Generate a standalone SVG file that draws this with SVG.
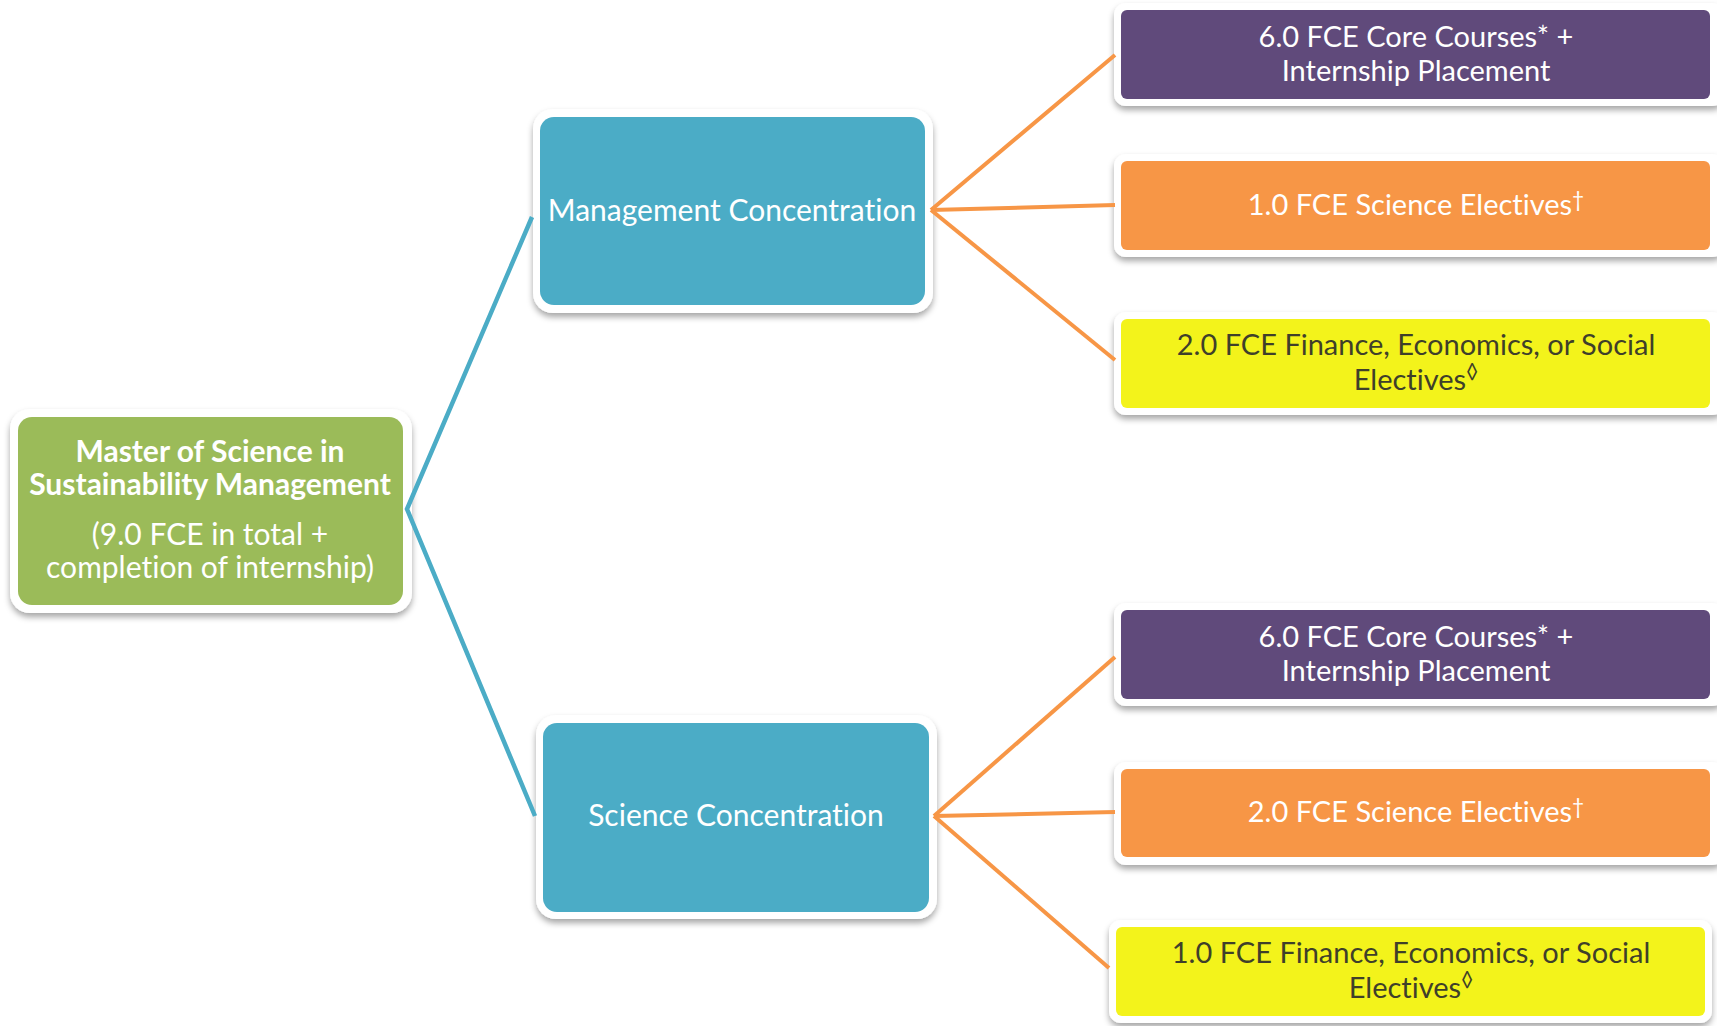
<svg xmlns="http://www.w3.org/2000/svg" width="1717" height="1026" viewBox="0 0 1717 1026">
<defs>
<filter id="sh" x="-10%" y="-10%" width="120%" height="130%">
<feDropShadow dx="0" dy="4" stdDeviation="3" flood-color="#000" flood-opacity="0.35"/>
</filter>
<style>
.frame{fill:#ffffff;filter:url(#sh);}
.t{font-family:Lato,"Open Sans","Liberation Sans",sans-serif;font-size:30px;text-anchor:middle;fill:#ffffff;font-variant-ligatures:none;}
.r{font-size:29px;}
.dk{fill:#3f3f2a;}
.b{font-weight:bold;}
.sup{font-size:21px;}
.c1{stroke:#4BACC6;stroke-width:4.5;fill:none;stroke-linejoin:miter;}
.c2{stroke:#F79646;stroke-width:4;fill:none;}
</style>
</defs>
<rect width="1717" height="1026" fill="#ffffff"/>
<g id="root">
<rect class="frame" x="10" y="409" width="402" height="204" rx="20"/>
<rect x="18" y="417" width="385" height="188" rx="14" fill="#9BBB59"/>
<text class="t b" x="210" y="462">Master of Science in</text>
<text class="t b" x="210" y="495">Sustainability Management</text>
<text class="t" x="210" y="545">(9.0 FCE in total +</text>
<text class="t" x="210" y="578">completion of internship)</text>
</g>
<g id="management">
<rect class="frame" x="533" y="109" width="400" height="204" rx="20"/>
<rect x="540" y="117" width="385" height="188" rx="14" fill="#4BACC6"/>
<text class="t" x="732" y="221">Management Concentration</text>
</g>
<g id="science">
<rect class="frame" x="536" y="715" width="401" height="204" rx="20"/>
<rect x="543" y="723" width="386" height="189" rx="14" fill="#4BACC6"/>
<text class="t" x="736" y="826">Science Concentration</text>
</g>
<g id="m-core">
<rect class="frame" x="1114" y="3" width="610" height="103" rx="12"/>
<rect x="1121" y="10" width="589" height="89" rx="6" fill="#604A7B"/>
<text class="t r" x="1416" y="47">6.0 FCE Core Courses* +</text>
<text class="t r" x="1416" y="81">Internship Placement</text>
</g>
<g id="m-science">
<rect class="frame" x="1114" y="154" width="610" height="103" rx="12"/>
<rect x="1121" y="161" width="589" height="89" rx="6" fill="#F79646"/>
<text class="t r" x="1416" y="215">1.0 FCE Science Electives<tspan class="sup" dy="-8">†</tspan></text>
</g>
<g id="m-finance">
<rect class="frame" x="1114" y="312" width="610" height="103" rx="12"/>
<rect x="1121" y="319" width="589" height="89" rx="6" fill="#F3F31B"/>
<text class="t r dk" x="1416" y="355">2.0 FCE Finance, Economics, or Social</text>
<text class="t r dk" x="1416" y="390">Electives<tspan class="sup" dy="-11">◊</tspan></text>
</g>
<g id="s-core">
<rect class="frame" x="1114" y="603" width="610" height="103" rx="12"/>
<rect x="1121" y="610" width="589" height="89" rx="6" fill="#604A7B"/>
<text class="t r" x="1416" y="647">6.0 FCE Core Courses* +</text>
<text class="t r" x="1416" y="681">Internship Placement</text>
</g>
<g id="s-science">
<rect class="frame" x="1114" y="762" width="610" height="103" rx="12"/>
<rect x="1121" y="769" width="589" height="88" rx="6" fill="#F79646"/>
<text class="t r" x="1416" y="822">2.0 FCE Science Electives<tspan class="sup" dy="-8">†</tspan></text>
</g>
<g id="s-finance">
<rect class="frame" x="1109" y="920" width="603" height="103" rx="12"/>
<rect x="1116" y="927" width="589" height="89" rx="6" fill="#F3F31B"/>
<text class="t r dk" x="1411" y="963">1.0 FCE Finance, Economics, or Social</text>
<text class="t r dk" x="1411" y="998">Electives<tspan class="sup" dy="-11">◊</tspan></text>
</g>
<g id="connectors">
<polyline class="c1" points="532,217 407,509 535,816"/>
<line class="c2" x1="931" y1="210" x2="1115" y2="55"/>
<line class="c2" x1="931" y1="210" x2="1115" y2="205"/>
<line class="c2" x1="931" y1="210" x2="1115" y2="360"/>
<line class="c2" x1="934" y1="816" x2="1115" y2="657"/>
<line class="c2" x1="934" y1="816" x2="1115" y2="812"/>
<line class="c2" x1="934" y1="816" x2="1109" y2="968"/>
</g>
</svg>
